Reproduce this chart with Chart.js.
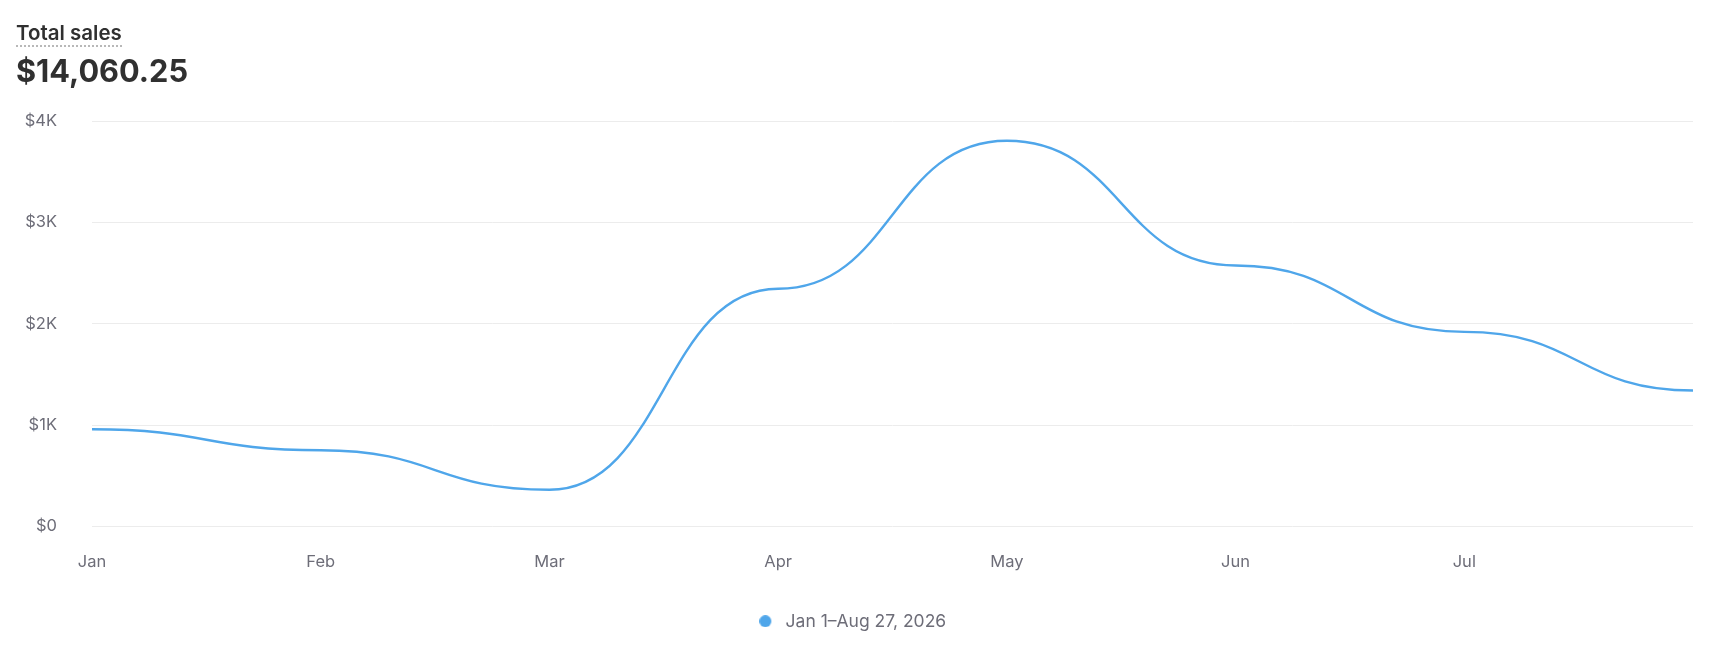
<!DOCTYPE html>
<html>
<head>
<meta charset="utf-8">
<script src="https://cdn.jsdelivr.net/npm/chart.js@4.4.1/dist/chart.umd.min.js"></script>
<style>
  html, body { margin: 0; padding: 0; background: #ffffff; }
  body { width: 1724px; height: 666px; position: relative; overflow: hidden; font-family: Inter, "Noto Sans", sans-serif; }
  #title { position: absolute; left: 16px; top: 22px; font-size: 20.5px; line-height: 21px; font-weight: 600; color: #303030; padding-bottom: 2px; border-bottom: 2px dotted #b8b8b8; }
  #value { position: absolute; left: 16px; top: 53px; font-size: 30.7px; line-height: 36px; font-weight: 700; color: #303030; }
  #wrap { position: absolute; left: 0; top: 0; width: 1724px; height: 666px; }
</style>
</head>
<body>
<div id="wrap"><canvas id="c"></canvas></div>
<div id="title">Total sales</div>
<div id="value">$14,060.25</div>
<script>
const categories = ['Jan', 'Feb', 'Mar', 'Apr', 'May', 'Jun', 'Jul', 'Aug'];
const xTickLabels = ['Jan', 'Feb', 'Mar', 'Apr', 'May', 'Jun', 'Jul', ''];
const salesValues = [960, 752, 362, 2345, 3805, 2575, 1920, 1341.25];
const yTickValues = [0, 1000, 2000, 3000, 4000];
const yTickLabels = ['$0', '$1K', '$2K', '$3K', '$4K'];
const seriesLabel = 'Jan 1\u2013Aug 27, 2026';

const lineColor = '#4fa6ea';
const tickColor = '#6d6d78';

// legend marker: circle placed at the left of a wider transparent box
function makeMarker() {
  const cv = document.createElement('canvas');
  cv.width = 18; cv.height = 12;
  const g = cv.getContext('2d');
  g.fillStyle = lineColor;
  g.beginPath();
  g.arc(6, 6, 6, 0, Math.PI * 2);
  g.fill();
  return cv;
}
const marker = makeMarker();

// horizontal tangents at every point (rounded step look)
const roundedSteps = {
  id: 'roundedSteps',
  beforeDatasetDraw(chart, args) {
    const meta = args.meta;
    const line = meta.dataset;
    if (!line) return;
    line.updateControlPoints(chart.chartArea, 'x');
    const pts = meta.data;
    for (let i = 0; i < pts.length; i++) {
      const p = pts[i];
      const prev = pts[i - 1] || p;
      const next = pts[i + 1] || p;
      p.cp1x = p.x - (p.x - prev.x) * 0.5;
      p.cp1y = p.y;
      p.cp2x = p.x + (next.x - p.x) * 0.5;
      p.cp2y = p.y;
    }
  }
};

new Chart(document.getElementById('c'), {
  type: 'line',
  data: {
    labels: categories,
    datasets: [{
      label: seriesLabel,
      data: salesValues,
      borderColor: lineColor,
      backgroundColor: lineColor,
      borderWidth: 2.4,
      pointRadius: 0,
      pointHoverRadius: 0,
      pointStyle: marker,
      tension: 0.4,
      fill: false
    }]
  },
  plugins: [roundedSteps],
  options: {
    responsive: true,
    maintainAspectRatio: false,
    animation: false,
    layout: { padding: { left: 13, right: 31, top: 121, bottom: 26 } },
    plugins: {
      tooltip: { enabled: false },
      legend: {
        position: 'bottom',
        labels: {
          usePointStyle: true,
          pointStyleWidth: 17,
          boxHeight: 12,
          padding: 10,
          color: tickColor,
          font: { family: 'Inter', size: 17.5 }
        }
      }
    },
    scales: {
      x: {
        grid: { display: false, drawTicks: false },
        border: { display: false },
        afterFit(scale) { scale.height = 76; },
        ticks: {
          autoSkip: false,
          maxRotation: 0,
          padding: 26,
          color: tickColor,
          font: { family: 'Inter', size: 16.5 },
          callback: (v, i) => xTickLabels[i]
        }
      },
      y: {
        min: 0,
        max: 4000,
        afterFit(scale) { scale.width = 79; },
        afterBuildTicks(scale) { scale.ticks = yTickValues.map(v => ({ value: v })); },
        grid: { color: '#ececec', lineWidth: 1, drawTicks: false },
        border: { display: false },
        ticks: {
          padding: 35,
          color: tickColor,
          font: { family: 'Inter', size: 16.5 },
          callback: (v) => yTickLabels[yTickValues.indexOf(v)]
        }
      }
    }
  }
});
</script>
</body>
</html>
